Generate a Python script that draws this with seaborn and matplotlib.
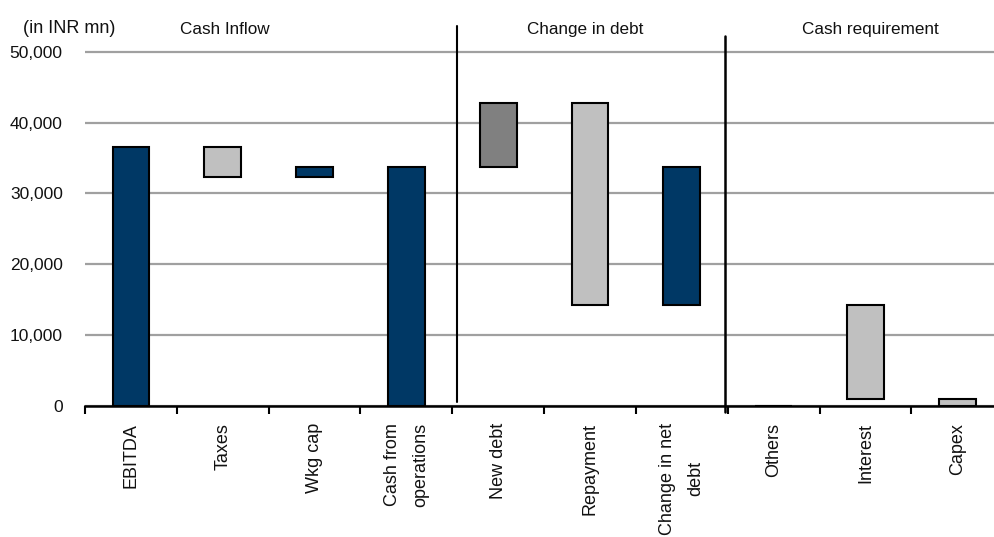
import matplotlib
matplotlib.use("Agg")
import matplotlib.pyplot as plt
import seaborn as sns
import pandas as pd
from matplotlib.ticker import FixedLocator, FuncFormatter

# Waterfall steps (INR mn): each bar spans from `starts` to `ends`
categories = ["EBITDA", "Taxes", "Wkg cap", "Cash from\noperations", "New debt",
              "Repayment", "Change in net\ndebt", "Others", "Interest", "Capex"]
starts = [0, 32300, 32300, 0, 33700, 14200, 14200, 0, 1000, 0]
ends = [36500, 36500, 33700, 33700, 42700, 42700, 33700, 0, 14200, 1000]
bar_colors = ["#003865", "#C0C0C0", "#003865", "#003865", "#808080",
              "#C0C0C0", "#003865", "#C0C0C0", "#C0C0C0", "#C0C0C0"]
section_titles = ["Cash Inflow", "Change in debt", "Cash requirement"]
yticks = [0, 10000, 20000, 30000, 40000, 50000]

df = pd.DataFrame({
    "category": categories,
    "height": [e - s for s, e in zip(starts, ends)],
    "start": starts,
})

sns.set_theme(style="white")
plt.rcParams["font.family"] = ["Liberation Sans", "DejaVu Sans"]

fig = plt.figure(figsize=(9.95, 5.37), dpi=100)
ax = fig.add_axes([85 / 995, 1 - 406 / 537, (994 - 85) / 995, (406 - 26) / 537])

sns.barplot(data=df, x="category", y="height", bottom=df["start"].values,
            color=bar_colors[0], saturation=1, width=0.4, errorbar=None, ax=ax,
            edgecolor="black", linewidth=1.5, zorder=3)
for patch, c in zip(ax.patches, bar_colors):
    patch.set_facecolor(c)

# 10,000 units span 71 px; the axes top leaves room for the section headers
px_per_unit = 7.1 / 1000
ymax = 50000 + (51.7 - 26) / px_per_unit
ax.set_ylim(0, ymax)
ax.set_xlim(-0.5, 9.4)

ax.yaxis.set_major_locator(FixedLocator(yticks))
ax.yaxis.set_major_formatter(FuncFormatter(lambda v, p: f"{int(v):,}"))
ax.tick_params(axis="y", length=0, pad=16, labelsize=12.5, colors="#111111")
ax.grid(axis="y", color="#a0a0a0", linewidth=1.6, zorder=0)
ax.set_axisbelow(True)

ax.set_xlabel("")
ax.set_ylabel("")
ax.tick_params(axis="x", which="major", length=0, pad=12, labelsize=13,
               labelrotation=90, colors="#111111")
for lbl in ax.get_xticklabels():
    lbl.set_verticalalignment("top")
    lbl.set_multialignment("center")
    lbl.set_linespacing(1.9)
ax.xaxis.set_minor_locator(FixedLocator([i - 0.5 for i in range(len(categories) + 1)]))
ax.tick_params(axis="x", which="minor", bottom=True, length=6, width=1.5,
               color="black", direction="out")

for side in ["left", "right", "top"]:
    ax.spines[side].set_visible(False)
ax.spines["bottom"].set_color("black")
ax.spines["bottom"].set_linewidth(1.8)
ax.spines["bottom"].set_zorder(5)

# Section dividers
ax.plot([3.555, 3.555], [600, ymax], color="black", linewidth=1.5,
        clip_on=False, zorder=4)
ax.plot([6.47, 6.47], [-900, ymax - 10 / px_per_unit], color="black",
        linewidth=1.8, clip_on=False, zorder=4)

# Section headers
header_y = (406 - 33) / px_per_unit
for xpos, title in zip([1.02, 4.95, 8.05], section_titles):
    ax.text(xpos, header_y, title, ha="center", va="baseline", fontsize=12.3,
            color="#111111", clip_on=False)

fig.text(23 / 995, 1 - 33 / 537, "(in INR mn)", ha="left", va="baseline",
         fontsize=13, color="#111111")

fig.savefig("out.png", dpi=100)
